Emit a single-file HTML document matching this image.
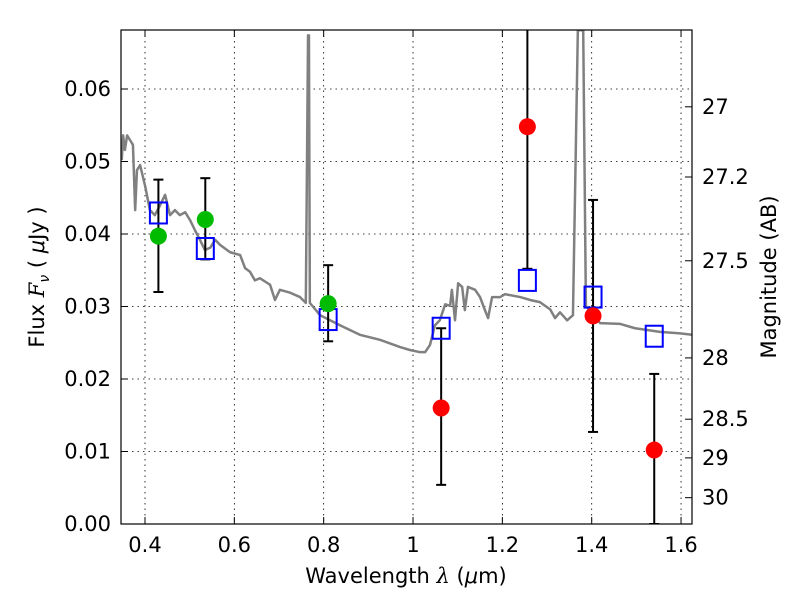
<!DOCTYPE html>
<html><head><meta charset="utf-8"><style>
body{margin:0;background:#fff}
text{font-family:"DejaVu Sans","Liberation Sans",sans-serif;fill:#000}
</style></head><body>
<svg id="chart" width="800" height="600" xmlns="http://www.w3.org/2000/svg">
<defs><clipPath id="clip"><rect x="121" y="30" width="571" height="494"/></clipPath></defs>
<rect width="800" height="600" fill="#fff"/>
<g id="grid"></g>
<g id="spec" clip-path="url(#clip)"></g>
<g id="marks" clip-path="url(#clip)"></g>
<rect x="121" y="30" width="571" height="494" fill="none" stroke="#000" stroke-width="1.2"/>
<g id="axes"></g>
<text x="406" y="583" font-size="21" text-anchor="middle">Wavelength  <tspan font-style="italic" font-family="DejaVu Serif">λ</tspan> (<tspan font-style="italic">μ</tspan>m)</text>
<text transform="translate(44,277) rotate(-90)" font-size="21" text-anchor="middle">Flux  <tspan font-style="italic" font-family="DejaVu Serif">F</tspan><tspan font-style="italic" font-size="14" dy="5">ν</tspan><tspan dy="-5">  ( <tspan font-style="italic">μ</tspan>Jy )</tspan></text>
<text transform="translate(776,277) rotate(-90)" font-size="21" text-anchor="middle">Magnitude (AB)</text>
</svg>
<script>
const xTicks=[0.4,0.6,0.8,1.0,1.2,1.4,1.6];
const xTickLabels=["0.4","0.6","0.8","1","1.2","1.4","1.6"];
const yTicks=[0,0.01,0.02,0.03,0.04,0.05,0.06];
const yTickLabels=["0.00","0.01","0.02","0.03","0.04","0.05","0.06"];
const magTicks=[27,27.2,27.5,28,28.5,29,30];
const magLabels=["27","27.2","27.5","28","28.5","29","30"];
const greenX=[0.43,0.535,0.81];
const greenY=[0.0397,0.042,0.0304];
const greenLo=[0.032,0.0365,0.0252];
const greenHi=[0.0475,0.0477,0.0357];
const redX=[1.063,1.256,1.403,1.54];
const redY=[0.016,0.0548,0.0287,0.0102];
const redLo=[0.0054,0.0352,0.0127,0.0];
const redHi=[0.027,0.075,0.0447,0.0207];
const modelX=[0.43,0.535,0.81,1.063,1.256,1.403,1.54];
const modelY=[0.0429,0.038,0.0282,0.027,0.0336,0.0313,0.0259];
const specL=[0.348,0.351,0.355,0.360,0.366,0.373,0.378,0.382,0.389,0.400,0.411,0.422,0.434,0.445,0.456,0.467,0.478,0.490,0.501,0.512,0.523,0.534,0.546,0.557,0.568,0.590,0.613,0.624,0.635,0.646,0.657,0.680,0.691,0.702,0.725,0.747,0.760,0.765,0.767,0.769,0.792,0.837,0.881,0.926,0.971,0.993,1.016,1.027,1.038,1.049,1.060,1.072,1.083,1.087,1.094,1.101,1.110,1.116,1.123,1.139,1.150,1.161,1.168,1.177,1.195,1.206,1.240,1.262,1.284,1.307,1.318,1.329,1.345,1.358,1.369,1.381,1.387,1.419,1.464,1.497,1.553,1.598,1.625];
const specF=[.0502,.0536,.0516,.0536,.0530,.0523,.0433,.0488,.0495,.0467,.0433,.0426,.0440,.0454,.0426,.0433,.0426,.0430,.0419,.0405,.0392,.0378,.0381,.0392,.0385,.0375,.0371,.0353,.0348,.0336,.0339,.0330,.0309,.0323,.0319,.0313,.0305,.0674,.0674,.0305,.0288,.0274,.0261,.0254,.0244,.0240,.0237,.0237,.0247,.0274,.0281,.0303,.0301,.0323,.0281,.0332,.0327,.0295,.0327,.0323,.0313,.0295,.0284,.0313,.0313,.0317,.0313,.0309,.0306,.0296,.0284,.0292,.0281,.0288,.0681,.0681,.0301,.0277,.0276,.0270,.0265,.0263,.0261];
const X=v=>145+(v-0.4)*446.7;
const Y=v=>524-v*7250;
const magY=m=>Y(Math.pow(10,(23.9-m)/2.5));
const NS="http://www.w3.org/2000/svg";
function mk(parent,tag,attrs){const e=document.createElementNS(NS,tag);for(const k in attrs)e.setAttribute(k,attrs[k]);document.getElementById(parent).appendChild(e);return e;}
xTicks.forEach((v,i)=>{
 const g=mk('grid','line',{x1:X(v),x2:X(v),y1:30,y2:524,stroke:'#000','stroke-width':0.8,'stroke-dasharray':'1.5,4'});
 
 
 mk('axes','line',{x1:X(v),x2:X(v),y1:524,y2:517,stroke:'#000'});
 mk('axes','line',{x1:X(v),x2:X(v),y1:30,y2:37,stroke:'#000'});
 const t=mk('axes','text',{x:X(v),y:552,'font-size':21,'text-anchor':'middle'});t.textContent=xTickLabels[i];
 
 
});
yTicks.forEach((v,i)=>{
 const g=mk('grid','line',{x1:121,x2:692,y1:Y(v),y2:Y(v),stroke:'#000','stroke-width':0.8,'stroke-dasharray':'1.5,4'});
 
 
 mk('axes','line',{x1:121,x2:128,y1:Y(v),y2:Y(v),stroke:'#000'});
 const t=mk('axes','text',{x:111,y:Y(v)+7,'font-size':21,'text-anchor':'end'});t.textContent=yTickLabels[i];
 
 
});
magTicks.forEach((m,i)=>{
 const y=magY(m);
 mk('axes','line',{x1:685,x2:692,y1:y,y2:y,stroke:'#000'});
 const t=mk('axes','text',{x:702,y:y+7,'font-size':21});t.textContent=magLabels[i];
 
 
});
const sp=mk('spec','polyline',{points:specL.map((l,i)=>X(l)+','+Y(specF[i])).join(' '),fill:'none',stroke:'#808080','stroke-width':2.5,'stroke-linejoin':'round'});


function err(x,lo,hi){
 mk('marks','line',{x1:X(x),x2:X(x),y1:Y(lo),y2:Y(hi),stroke:'#000','stroke-width':2});
 mk('marks','line',{x1:X(x)-5,x2:X(x)+5,y1:Y(lo),y2:Y(lo),stroke:'#000','stroke-width':2});
 mk('marks','line',{x1:X(x)-5,x2:X(x)+5,y1:Y(hi),y2:Y(hi),stroke:'#000','stroke-width':2});
}
greenX.forEach((x,i)=>err(x,greenLo[i],greenHi[i]));
redX.forEach((x,i)=>err(x,redLo[i],redHi[i]));
modelX.forEach((x,i)=>{
 const r=mk('marks','rect',{x:X(x)-8.5,y:Y(modelY[i])-10.5,width:17,height:21,fill:'none',stroke:'#0000ff','stroke-width':2});
 
 
});
greenX.forEach((x,i)=>{
 const c=mk('marks','circle',{cx:X(x),cy:Y(greenY[i]),r:8.5,fill:'#00bb00'});
 
 
});
redX.forEach((x,i)=>{
 const c=mk('marks','circle',{cx:X(x),cy:Y(redY[i]),r:8.5,fill:'#ff0000'});
 
 
});
</script>
</body></html>
